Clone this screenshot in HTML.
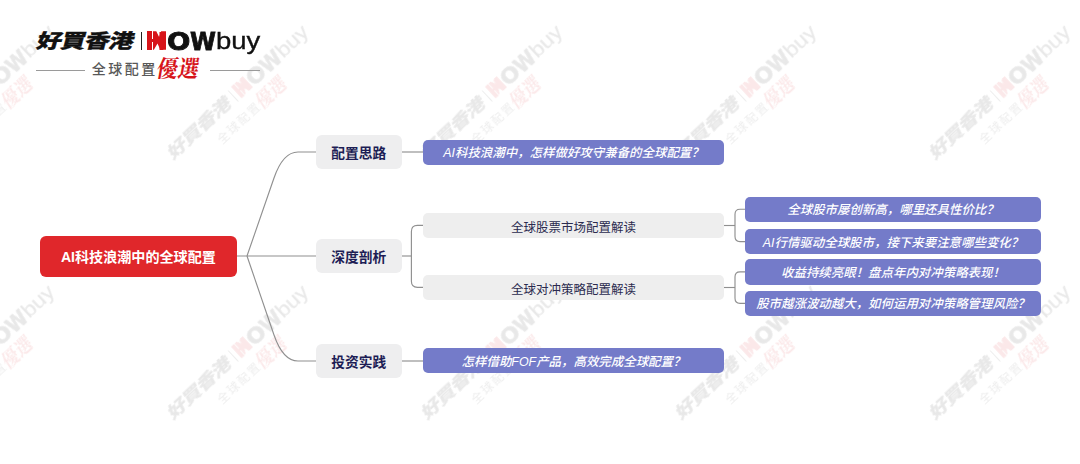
<!DOCTYPE html>
<html lang="zh">
<head>
<meta charset="utf-8">
<title>AI科技浪潮中的全球配置</title>
<style>
html,body{margin:0;padding:0;}
body{width:1080px;height:464px;position:relative;overflow:hidden;background:#fff;
 font-family:"Liberation Sans","Noto Sans CJK SC",sans-serif;}
.abs{position:absolute;}
.box{position:absolute;box-sizing:border-box;display:flex;align-items:center;justify-content:center;white-space:nowrap;}
.root{left:39.6px;top:236px;width:197.6px;height:41px;border-radius:6px;background:#e0272b;color:#fff;font-weight:700;font-size:14.1px;padding-bottom:1.6px;}
.l1{left:315.6px;width:86.2px;height:34px;border-radius:6px;background:#eeeeef;color:#1d1d55;font-weight:700;font-size:13.75px;}
.pur{background:#747bc9;color:#fff;font-style:italic;font-weight:500;font-size:12.45px;border-radius:5px;height:25.2px;}
.gry{background:#eeeeee;color:#2b2b4f;font-size:12.5px;border-radius:5px;height:25px;padding-top:1.5px;}
.l2{left:423px;width:301px;}
.l3{left:745px;width:296px;height:25.5px;}
svg.lines{position:absolute;left:0;top:0;}

.logo{position:absolute;width:226px;height:52px;left:36px;top:30px;transform-origin:0 0;}
.logo span{position:absolute;white-space:nowrap;line-height:1;display:block;}
.logo .hm{left:4px;top:0.7px;font-family:"Liberation Sans","Noto Sans CJK TC","Noto Sans CJK SC",sans-serif;font-weight:900;font-size:20px;color:#111;transform-origin:0 0;transform:scale(1.245,0.98) skewX(-12deg);letter-spacing:-0.7px;-webkit-text-stroke:0.3px #111;}
.logo .bar{left:104.5px;top:2px;width:1.4px;height:18px;background:#222;}
.logo .hb{left:110.6px;top:1.2px;width:5.8px;height:18.6px;background:#d7141a;}
.logo .hc{left:116.9px;top:1.2px;width:13.3px;height:18.6px;background:#d7141a;clip-path:polygon(0 0,3.4px 0,6.2px 5.8px,8.2px 0,100% 0,100% 100%,7.4px 100%,4.6px 12.4px,1px 100%,0 100%);}
.logo .h{left:109.8px;top:-0.6px;font-weight:700;font-size:24px;color:#d7141a;transform-origin:0 0;transform:scale(1.1,1.04);}
.logo .ow{top:-1.3px;font-family:"DejaVu Sans",sans-serif;font-weight:700;font-size:25px;color:#111;-webkit-text-stroke:0.8px #111;transform-origin:0 50%;}
.logo .o{left:130.6px;transform:scale(1.1,1);}
.logo .w{left:154.4px;transform:scale(0.94,1);}
.logo .buy{left:180px;top:-1px;font-size:25px;color:#111;-webkit-text-stroke:0.35px #111;transform-origin:0 0;transform:scale(1.1,0.97);}
.logo .ln{height:1px;background:#9a9a9a;top:39.5px;}
.logo .qq{left:55.8px;top:31.8px;font-size:14px;font-weight:500;letter-spacing:2.5px;color:#585858;}
.logo .yx{left:123.4px;top:27.6px;font-family:"Liberation Serif","Noto Serif CJK SC",serif;font-weight:700;font-size:21px;color:#d7141a;transform-origin:0 0;transform:skewX(-10deg) scale(1,1.12);}
.wm{opacity:0.09;filter:blur(0.5px);}
.wm .ln{display:none;}
</style>
</head>
<body>
<div class="logo wm" style="left:-91px;top:149px;transform:rotate(-43deg) scale(0.83)">
<span class="hm">好買香港</span><span class="bar"></span><span class="hb"></span><span class="hc"></span><span class="h">H</span><span class="ow o">O</span><span class="ow w">W</span><span class="buy">buy</span>
<span class="ln" style="left:0;width:49px"></span><span class="qq">全球配置</span><span class="yx">優選</span><span class="ln" style="left:174px;width:50px"></span>
</div>
<div class="logo wm" style="left:163px;top:149px;transform:rotate(-43deg) scale(0.83)">
<span class="hm">好買香港</span><span class="bar"></span><span class="hb"></span><span class="hc"></span><span class="h">H</span><span class="ow o">O</span><span class="ow w">W</span><span class="buy">buy</span>
<span class="ln" style="left:0;width:49px"></span><span class="qq">全球配置</span><span class="yx">優選</span><span class="ln" style="left:174px;width:50px"></span>
</div>
<div class="logo wm" style="left:417px;top:149px;transform:rotate(-43deg) scale(0.83)">
<span class="hm">好買香港</span><span class="bar"></span><span class="hb"></span><span class="hc"></span><span class="h">H</span><span class="ow o">O</span><span class="ow w">W</span><span class="buy">buy</span>
<span class="ln" style="left:0;width:49px"></span><span class="qq">全球配置</span><span class="yx">優選</span><span class="ln" style="left:174px;width:50px"></span>
</div>
<div class="logo wm" style="left:671px;top:149px;transform:rotate(-43deg) scale(0.83)">
<span class="hm">好買香港</span><span class="bar"></span><span class="hb"></span><span class="hc"></span><span class="h">H</span><span class="ow o">O</span><span class="ow w">W</span><span class="buy">buy</span>
<span class="ln" style="left:0;width:49px"></span><span class="qq">全球配置</span><span class="yx">優選</span><span class="ln" style="left:174px;width:50px"></span>
</div>
<div class="logo wm" style="left:925px;top:149px;transform:rotate(-43deg) scale(0.83)">
<span class="hm">好買香港</span><span class="bar"></span><span class="hb"></span><span class="hc"></span><span class="h">H</span><span class="ow o">O</span><span class="ow w">W</span><span class="buy">buy</span>
<span class="ln" style="left:0;width:49px"></span><span class="qq">全球配置</span><span class="yx">優選</span><span class="ln" style="left:174px;width:50px"></span>
</div>
<div class="logo wm" style="left:-91px;top:409px;transform:rotate(-43deg) scale(0.83)">
<span class="hm">好買香港</span><span class="bar"></span><span class="hb"></span><span class="hc"></span><span class="h">H</span><span class="ow o">O</span><span class="ow w">W</span><span class="buy">buy</span>
<span class="ln" style="left:0;width:49px"></span><span class="qq">全球配置</span><span class="yx">優選</span><span class="ln" style="left:174px;width:50px"></span>
</div>
<div class="logo wm" style="left:163px;top:409px;transform:rotate(-43deg) scale(0.83)">
<span class="hm">好買香港</span><span class="bar"></span><span class="hb"></span><span class="hc"></span><span class="h">H</span><span class="ow o">O</span><span class="ow w">W</span><span class="buy">buy</span>
<span class="ln" style="left:0;width:49px"></span><span class="qq">全球配置</span><span class="yx">優選</span><span class="ln" style="left:174px;width:50px"></span>
</div>
<div class="logo wm" style="left:417px;top:409px;transform:rotate(-43deg) scale(0.83)">
<span class="hm">好買香港</span><span class="bar"></span><span class="hb"></span><span class="hc"></span><span class="h">H</span><span class="ow o">O</span><span class="ow w">W</span><span class="buy">buy</span>
<span class="ln" style="left:0;width:49px"></span><span class="qq">全球配置</span><span class="yx">優選</span><span class="ln" style="left:174px;width:50px"></span>
</div>
<div class="logo wm" style="left:671px;top:409px;transform:rotate(-43deg) scale(0.83)">
<span class="hm">好買香港</span><span class="bar"></span><span class="hb"></span><span class="hc"></span><span class="h">H</span><span class="ow o">O</span><span class="ow w">W</span><span class="buy">buy</span>
<span class="ln" style="left:0;width:49px"></span><span class="qq">全球配置</span><span class="yx">優選</span><span class="ln" style="left:174px;width:50px"></span>
</div>
<div class="logo wm" style="left:925px;top:409px;transform:rotate(-43deg) scale(0.83)">
<span class="hm">好買香港</span><span class="bar"></span><span class="hb"></span><span class="hc"></span><span class="h">H</span><span class="ow o">O</span><span class="ow w">W</span><span class="buy">buy</span>
<span class="ln" style="left:0;width:49px"></span><span class="qq">全球配置</span><span class="yx">優選</span><span class="ln" style="left:174px;width:50px"></span>
</div>
<svg class="lines" width="1080" height="464" viewBox="0 0 1080 464" fill="none" stroke="#909090" stroke-width="1.15">
<path d="M237,256 L316,256"/>
<path d="M247,256 L274,178 Q283,152 298,152 L316,152"/>
<path d="M247,256 L274,335 Q283,361 298,361 L316,361"/>
<path d="M402,152 L423,152"/>
<path d="M402,361 L423,361"/>
<path d="M402,256 L411.4,256"/>
<path d="M423,225.4 L417.4,225.4 Q411.4,225.4 411.4,231.4 L411.4,281.3 Q411.4,287.3 417.4,287.3 L423,287.3"/>
<path d="M724,225.5 L735,225.5"/>
<path d="M745,209.2 L740,209.2 Q735,209.2 735,214.2 L735,236.6 Q735,241.6 740,241.6 L745,241.6"/>
<path d="M724,287.5 L735,287.5"/>
<path d="M745,271.8 L740,271.8 Q735,271.8 735,276.8 L735,298.3 Q735,303.3 740,303.3 L745,303.3"/>
</svg>

<div class="box root">AI科技浪潮中的全球配置</div>

<div class="box l1" style="top:135.2px">配置思路</div>
<div class="box l1" style="top:239.3px">深度剖析</div>
<div class="box l1" style="top:344px">投资实践</div>

<div class="box pur l2" style="top:139.8px">AI科技浪潮中，怎样做好攻守兼备的全球配置？</div>
<div class="box gry l2" style="top:213.1px">全球股票市场配置解读</div>
<div class="box gry l2" style="top:274.8px">全球对冲策略配置解读</div>
<div class="box pur l2" style="top:348px">怎样借助FOF产品，高效完成全球配置？</div>

<div class="box pur l3" style="top:196.5px">全球股市屡创新高，哪里还具性价比？</div>
<div class="box pur l3" style="top:228.9px">AI行情驱动全球股市，接下来要注意哪些变化？</div>
<div class="box pur l3" style="top:259.1px">收益持续亮眼！盘点年内对冲策略表现！</div>
<div class="box pur l3" style="top:290.5px">股市越涨波动越大，如何运用对冲策略管理风险？</div>

<div class="logo">
<span class="hm">好買香港</span><span class="bar"></span><span class="hb"></span><span class="hc"></span><span class="h">H</span><span class="ow o">O</span><span class="ow w">W</span><span class="buy">buy</span>
<span class="ln" style="left:0;width:49px"></span><span class="qq">全球配置</span><span class="yx">優選</span><span class="ln" style="left:174px;width:50px"></span>
</div>
</body>
</html>
